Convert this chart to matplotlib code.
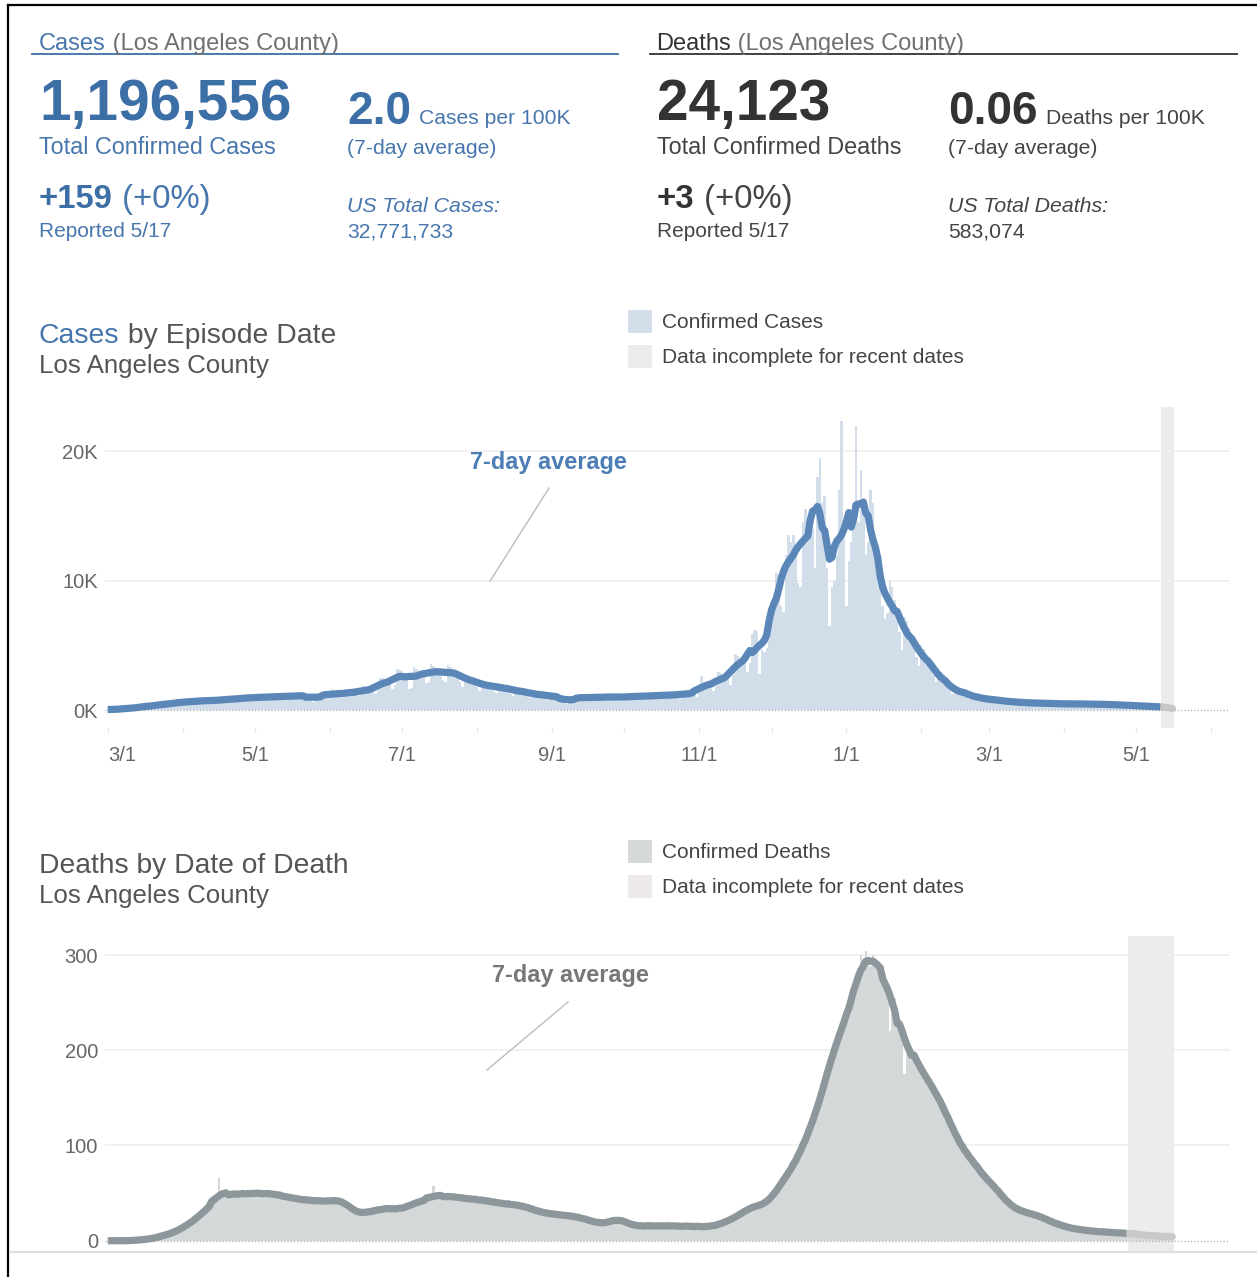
import numpy as np
import pandas as pd
import matplotlib
matplotlib.use('Agg')
import matplotlib.pyplot as plt
from matplotlib.patches import Rectangle
from matplotlib.lines import Line2D

W, H = 1257, 1277
START = pd.Timestamp('2020-03-01')

# daily confirmed cases by episode date, 3/1/2020 .. 5/16/2021 (one row per week)
cases_daily = [
    20, 30, 40, 50, 60, 70, 80,
    90, 120, 140, 160, 180, 170, 160,
    220, 290, 320, 340, 350, 310, 260,
    330, 480, 500, 510, 500, 460, 380,
    440, 650, 680, 690, 660, 600, 480,
    520, 790, 800, 780, 760, 700, 560,
    560, 850, 860, 830, 800, 740, 600,
    640, 980, 970, 930, 900, 830, 680,
    700, 1100, 1090, 1050, 1000, 920, 760,
    740, 1180, 1150, 1100, 1050, 970, 800,
    780, 1230, 1200, 1160, 1100, 1020, 850,
    820, 1300, 1260, 1200, 1150, 1060, 900,
    760, 600, 1250, 1220, 1150, 1060, 900,
    900, 1450, 1600, 1320, 1250, 1150, 960,
    1000, 1620, 1580, 1500, 1420, 1300, 1050,
    1150, 1850, 1800, 1720, 1650, 1500, 1250,
    1550, 2500, 2450, 2350, 2250, 2050, 1650,
    1950, 3150, 3100, 3000, 2850, 2500, 1600,
    1700, 3300, 3200, 3000, 2900, 2700, 2100,
    2200, 3550, 3400, 3250, 3100, 2900, 2300,
    2150, 3450, 3300, 3150, 3000, 2800, 2200,
    1800, 2800, 2700, 2550, 2400, 2200, 1750,
    1450, 2300, 2250, 2100, 2000, 1800, 1450,
    1300, 2050, 2000, 1900, 1800, 1650, 1250,
    1100, 1750, 1700, 1600, 1520, 1400, 1100,
    900, 1450, 1420, 1350, 1280, 1150, 900,
    800, 1270, 1250, 1180, 1120, 1000, 750,
    600, 450, 900, 950, 980, 900, 750,
    700, 1150, 1120, 1050, 1000, 920, 720,
    750, 1200, 1180, 1100, 1050, 980, 760,
    750, 1200, 1180, 1100, 1060, 980, 760,
    780, 1270, 1240, 1160, 1110, 1020, 800,
    820, 1330, 1300, 1220, 1160, 1070, 840,
    860, 1390, 1360, 1280, 1210, 1120, 880,
    950, 1500, 1480, 1400, 1330, 1220, 970,
    1350, 2600, 2100, 2000, 1950, 1850, 1450,
    1850, 2900, 2850, 2700, 2550, 2400, 1900,
    2700, 4300, 4200, 4000, 3850, 3600, 2900,
    3600, 5900, 6200, 6100, 2800, 4700, 4500,
    4800, 7000, 7800, 9000, 10600, 10400, 8000,
    7600, 12000, 13500, 13000, 13500, 12500, 9800,
    9500, 14500, 15500, 14500, 15000, 14000, 11000,
    18000, 19500, 16000, 16500, 11000, 6500, 9500,
    10000, 12000, 17000, 22300, 14000, 8000, 11500,
    13000, 16000, 21900, 14500, 18500, 15500, 12000,
    13000, 17000, 16000, 13000, 11000, 10000, 8000,
    7000, 7500, 10000, 9500, 8500, 7500, 6000,
    4600, 7200, 6900, 6300, 5700, 5100, 4100,
    3400, 5000, 4700, 4300, 3900, 3400, 2700,
    2200, 3200, 2900, 2600, 2300, 2000, 1600,
    1200, 1600, 1800, 1600, 1450, 1300, 1000,
    850, 1300, 1200, 1100, 1000, 900, 700,
    600, 1000, 950, 880, 820, 750, 580,
    480, 820, 780, 720, 660, 600, 470,
    420, 700, 670, 620, 570, 520, 410,
    390, 650, 620, 580, 530, 480, 380,
    360, 600, 580, 540, 490, 440, 350,
    340, 600, 570, 520, 480, 430, 340,
    340, 580, 560, 510, 470, 420, 330,
    310, 530, 510, 470, 430, 380, 300,
    270, 460, 440, 400, 370, 330, 260,
    220, 380, 370, 340, 310, 270, 210,
    190, 320, 310, 280, 220, 150, 90,
    40,
]

# daily deaths by date of death, same date range
deaths_daily = [
    0, 0, 0, 0, 0, 0, 0,
    0, 0, 0, 0, 1, 0, 1,
    1, 1, 2, 1, 2, 3, 3,
    4, 5, 5, 6, 7, 8, 8,
    9, 11, 12, 14, 15, 17, 18,
    20, 22, 24, 26, 29, 31, 33,
    35, 38, 41, 44, 66, 45, 47,
    48, 50, 47, 49, 51, 48, 50,
    49, 47, 50, 52, 48, 51, 49,
    50, 48, 52, 49, 47, 51, 50,
    48, 46, 50, 45, 47, 44, 46,
    45, 43, 46, 42, 44, 41, 43,
    42, 44, 41, 43, 40, 42, 41,
    43, 41, 42, 44, 40, 42, 43,
    41, 38, 36, 33, 31, 30, 29,
    30, 28, 31, 29, 32, 30, 33,
    31, 34, 33, 35, 32, 34, 36,
    33, 32, 34, 33, 35, 36, 37,
    38, 40, 39, 41, 42, 43, 42,
    44, 45, 57, 45, 46, 47, 45,
    47, 46, 48, 45, 47, 46, 44,
    45, 43, 46, 44, 42, 45, 43,
    42, 44, 41, 43, 40, 42, 41,
    40, 38, 41, 39, 37, 40, 38,
    37, 39, 36, 38, 35, 37, 34,
    33, 35, 32, 30, 31, 29, 30,
    28, 30, 27, 29, 26, 28, 27,
    26, 28, 25, 27, 24, 26, 25,
    23, 25, 22, 21, 20, 22, 19,
    18, 20, 17, 19, 18, 21, 20,
    22, 24, 23, 21, 19, 20, 18,
    16, 17, 15, 16, 14, 17, 15,
    16, 15, 17, 16, 14, 15, 16,
    15, 17, 16, 15, 16, 14, 16,
    15, 16, 14, 15, 17, 15, 14,
    15, 14, 16, 15, 14, 16, 15,
    16, 17, 18, 19, 20, 21, 22,
    23, 25, 26, 28, 30, 31, 33,
    34, 36, 35, 37, 38, 37, 39,
    40, 42, 45, 49, 53, 57, 61,
    61, 69, 70, 77, 78, 85, 87,
    95, 98, 108, 110, 121, 122, 133,
    140, 146, 160, 163, 178, 182, 196,
    203, 205, 218, 219, 232, 234, 247,
    252, 262, 263, 282, 300, 283, 304,
    296, 289, 300, 288, 294, 285, 289,
    280, 270, 220, 252, 255, 238, 232,
    226, 175, 215, 203, 201, 190, 192,
    186, 177, 178, 170, 169, 160, 163,
    158, 148, 147, 139, 137, 127, 126,
    117, 115, 105, 104, 96, 95, 88,
    92, 84, 83, 76, 75, 69, 69,
    66, 61, 62, 56, 56, 50, 50,
    45, 44, 38, 38, 34, 35, 32,
    33, 30, 31, 28, 29, 27, 28,
    26, 27, 24, 24, 21, 22, 19,
    20, 17, 18, 15, 16, 14, 14,
    14, 12, 13, 11, 12, 11, 12,
    10, 11, 9, 10, 10, 9, 10,
    9, 8, 10, 8, 9, 8, 8,
    8, 7, 9, 8, 7, 8, 6,
    7, 6, 6, 5, 6, 5, 6,
    5, 5, 4, 5, 4, 4, 5,
    4,
]

# most recent days are still being back-filled
cases_incomplete_days = 5
deaths_incomplete_days = 19

x_tick_dates = pd.date_range('2020-03-01', '2021-06-01', freq='MS')
x_tick_labels = ['3/1', '', '5/1', '', '7/1', '', '9/1', '', '11/1', '',
                 '1/1', '', '3/1', '', '5/1', '']
cases_yticks = [0, 10000, 20000]
cases_ylabels = ['0K', '10K', '20K']
deaths_yticks = [0, 100, 200, 300]
deaths_ylabels = ['0', '100', '200', '300']

total_cases = 1196556
cases_per_100k = 2.0
new_cases = 159
us_total_cases = 32771733
total_deaths = 24123
deaths_per_100k = 0.06
new_deaths = 3
us_total_deaths = 583074
report_date = '5/17'

BLUE = '#3d6fa7'
BLUE_TXT = '#4676ad'
DARK = '#333333'
GREY_TXT = '#555555'
PAREN = '#707070'

plt.rcParams['font.family'] = ['Liberation Sans', 'DejaVu Sans']

fig = plt.figure(figsize=(W / 100, H / 100), dpi=100)
fig.patch.set_facecolor('white')
renderer = fig.canvas.get_renderer()


def fx(x):
    return x / W


def fy(y):
    return 1 - y / H


def put(x, y, parts):
    # a run of differently styled strings sharing one baseline
    for s, kw in parts:
        t = fig.text(fx(x), fy(y), s, va='baseline', ha='left', **kw)
        x = t.get_window_extent(renderer).x1
    return x


def hline(x0, x1, y, color, lw):
    fig.add_artist(Line2D([fx(x0), fx(x1)], [fy(y), fy(y)], color=color, lw=lw,
                          transform=fig.transFigure))


# frame of the panel
fig.add_artist(Line2D([fx(8), fx(8)], [fy(5), fy(H)], color='black', lw=1.6,
                      transform=fig.transFigure))
hline(8, W, 5, 'black', 1.6)

# --- summary numbers ---
put(39, 50, [('Cases', dict(color=BLUE_TXT, fontsize=17)),
             (' (Los Angeles County)', dict(color=PAREN, fontsize=17))])
hline(32, 618, 53.5, BLUE, 1.3)
put(656, 50, [('Deaths', dict(color=DARK, fontsize=17)),
              (' (Los Angeles County)', dict(color=PAREN, fontsize=17))])
hline(650, 1237, 53.5, '#333333', 1.3)

for x0, x1, col, tcol, total, word, rate, unit, new, us_lab, us_val in [
        (39, 347, BLUE, BLUE_TXT, total_cases, 'Cases', f'{cases_per_100k:.1f}', 'Cases per 100K',
         new_cases, 'US Total Cases:', us_total_cases),
        (657, 948, DARK, '#444444', total_deaths, 'Deaths', f'{deaths_per_100k:.2f}', 'Deaths per 100K',
         new_deaths, 'US Total Deaths:', us_total_deaths)]:
    put(x0, 120, [(f'{total:,}', dict(color=col, fontsize=40.8, fontweight='bold'))])
    put(x0, 154, [(f'Total Confirmed {word}', dict(color=tcol, fontsize=16.8))])
    end = put(x1, 124, [(rate, dict(color=col, fontsize=33, fontweight='bold'))])
    put(end + 8, 124, [(unit, dict(color=tcol, fontsize=15.2))])
    put(x1, 154, [('(7-day average)', dict(color=tcol, fontsize=15.2))])
    put(x0, 208, [(f'+{new}', dict(color=col, fontsize=23.7, fontweight='bold')),
                  (' (+0%)', dict(color=tcol, fontsize=23.7))])
    put(x0, 237, [(f'Reported {report_date}', dict(color=tcol, fontsize=15))])
    put(x1, 212, [(us_lab, dict(color=tcol, fontsize=15.3, style='italic'))])
    put(x1, 237, [(f'{us_val:,}', dict(color=tcol, fontsize=15.2))])

# --- chart headers and legends ---
put(39, 343, [('Cases', dict(color=BLUE_TXT, fontsize=20.4)),
              (' by Episode Date', dict(color=GREY_TXT, fontsize=20.4))])
put(39, 373, [('Los Angeles County', dict(color=GREY_TXT, fontsize=18.6))])
put(39, 873, [('Deaths by Date of Death', dict(color=GREY_TXT, fontsize=20.3))])
put(39, 903, [('Los Angeles County', dict(color=GREY_TXT, fontsize=18.6))])

for y_top, label, colr in [(310, 'Confirmed Cases', '#d3deeb'),
                           (345, 'Data incomplete for recent dates', '#ecebea'),
                           (840, 'Confirmed Deaths', '#d5d9da'),
                           (875, 'Data incomplete for recent dates', '#ece9e8')]:
    fig.add_artist(Rectangle((fx(628), fy(y_top + 23)), 24 / W, 23 / H, color=colr,
                             lw=0, transform=fig.transFigure))
    put(662, y_top + 18, [(label, dict(color='#444444', fontsize=15))])


def draw_chart(ax, values, n_incomplete, bar_col, inc_bar_col, line_col, inc_line_col,
               ylim, yticks, ylabels):
    values = np.asarray(values, dtype=float)
    days = np.arange(len(values))
    avg = pd.Series(values).rolling(7, center=True, min_periods=1).mean().to_numpy()
    cut = len(values) - n_incomplete

    for t in yticks[1:]:
        ax.axhline(t, color='#efefef', lw=1.2, zorder=0.4)
    ax.axvspan(cut - 0.5, len(values) - 0.5, color='#ececec', lw=0, zorder=0.5)
    ax.bar(days[:cut], values[:cut], width=1.0, color=bar_col, lw=0, zorder=2,
           antialiased=False)
    ax.bar(days[cut:], values[cut:], width=1.0, color=inc_bar_col, lw=0, zorder=2,
           antialiased=False)
    ax.axhline(0, color='#b0b0b0', lw=0.9, ls=(0, (1, 1.6)), zorder=2.5)
    ax.plot(days[cut - 1:], avg[cut - 1:], color=inc_line_col, lw=5.2, zorder=3,
            solid_capstyle='round', solid_joinstyle='round')
    ax.plot(days[:cut], avg[:cut], color=line_col, lw=5.2, zorder=3.1,
            solid_capstyle='butt', solid_joinstyle='round')

    ax.set_xlim(-1.12, 464.9)
    ax.set_ylim(*ylim)
    for s in ax.spines.values():
        s.set_visible(False)
    ax.set_facecolor('none')
    ax.set_yticks(yticks)
    ax.set_yticklabels(ylabels)
    ax.tick_params(axis='y', length=0, pad=5, labelsize=14.5, labelcolor='#666666')


# --- cases chart ---
ax1 = fig.add_axes([fx(105), fy(728), (1230 - 105) / W, (728 - 407) / H])
draw_chart(ax1, cases_daily, cases_incomplete_days, '#d2ddea', '#cdcdcd', '#5a86b8', '#c6c6c6',
           (-1390, 23400), cases_yticks, cases_ylabels)
tick_pos = (x_tick_dates - START).days
ax1.set_xticks(tick_pos)
ax1.set_xticklabels(x_tick_labels)
ax1.tick_params(axis='x', length=3, width=1, color='#e2e2e2', pad=10, labelsize=14.5,
                labelcolor='#666666')
ax1.get_xticklabels()[0].set_ha('left')
ax1.text(182.4, 19150, '7-day average', color='#4c7db4', fontsize=16.9, fontweight='bold',
         ha='center', va='center', zorder=5)
ax1.plot([182.8, 158.4], [17140, 9960], color='#bdbdbd', lw=1, zorder=1)

# --- deaths chart ---
ax2 = fig.add_axes([fx(105), fy(1251), (1230 - 105) / W, (1251 - 936) / H])
draw_chart(ax2, deaths_daily, deaths_incomplete_days, '#d4d8d9', '#d9d9d9', '#8c969b', '#c9c9c9',
           (-10.8, 320), deaths_yticks, deaths_ylabels)
ax2.set_xticks([])
ax2.text(191.5, 279, '7-day average', color='#777777', fontsize=16.9, fontweight='bold',
         ha='center', va='center', zorder=5)
ax2.plot([190.7, 157.1], [250.7, 179.3], color='#bdbdbd', lw=1, zorder=1)

hline(10, W, 1251.5, '#dedede', 1.5)

fig.savefig('out.png', dpi=100)
